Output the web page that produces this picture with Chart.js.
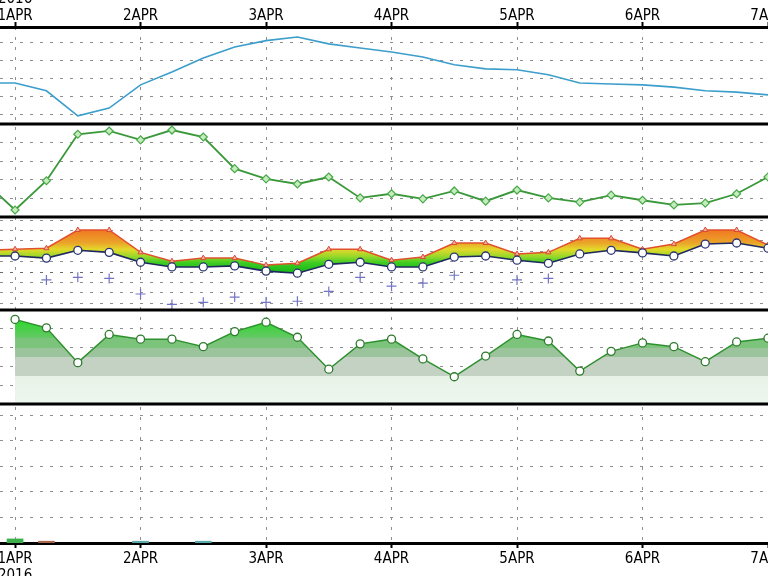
<!DOCTYPE html>
<html>
<head>
<meta charset="utf-8">
<script src="https://cdn.jsdelivr.net/npm/chart.js@4.4.1/dist/chart.umd.min.js"></script>
<style>
html,body{margin:0;padding:0;background:#fff;overflow:hidden}
#wrap{position:relative;width:768px;height:576px}
</style>
</head>
<body>
<div id="wrap"><canvas id="meteo"></canvas></div>
<script>
// time in days since 1 APR 2016 00Z, 6-hourly
const times = [-0.25,0,0.25,0.5,0.75,1,1.25,1.5,1.75,2,2.25,2.5,2.75,3,3.25,3.5,3.75,4,4.25,4.5,4.75,5,5.25,5.5,5.75,6];
const dayTicks = [0,1,2,3,4,5,6];
const dayLabels = ['1APR','2APR','3APR','4APR','5APR','6APR','7APR'];
const yearLabel = '2016';

const pressure = [1011.0,1011.0,1009.3,1003.8,1005.5,1010.6,1013.4,1016.5,1018.9,1020.3,1021.1,1019.6,1018.7,1017.8,1016.7,1015.0,1014.1,1013.9,1012.8,1011.0,1010.8,1010.6,1010.1,1009.3,1009.0,1008.4];
const wind = [3.9,0.75,3.9,8.9,9.25,8.3,9.35,8.6,5.2,4.1,3.55,4.3,2.05,2.5,1.95,2.8,1.7,2.9,2.05,1.6,2.35,1.8,1.3,1.5,2.5,4.3];
const temp = [3.1,3.1,2.7,4.2,3.8,1.9,1.0,1.0,1.2,0.2,-0.2,1.5,1.9,1.0,1.0,2.9,3.1,2.3,1.7,3.5,4.2,3.7,3.1,5.4,5.6,4.6];
const tempMax = [4.2,4.4,4.6,8.1,8.1,3.8,2.1,2.7,2.7,1.35,1.7,4.4,4.4,2.3,2.9,5.6,5.6,3.5,3.8,6.5,6.5,4.4,5.4,8.1,8.1,5.2];
const dewPoint = [null,null,-1.5,-1.0,-1.2,-4.2,-6.2,-5.8,-4.8,-5.8,-5.6,-3.7,-1.0,-2.7,-2.1,-0.6,null,-1.5,-1.2,null,null,null,null,null,null,null];
const humidity = [null,90,81,44,74,69,69,61,77,87,71,37,64,69,48,29,51,74,67,35,56,65,61,45,66,70];
const precipTimes = [0,0.25,1,1.5];
const precip = [0.16,0.07,0.07,0.07];

const pts = arr => times.map((t, i) => ({x: t, y: arr[i]}));

const FONT = {family: "'Liberation Sans Narrow','DejaVu Sans Condensed','Liberation Sans',sans-serif", size: 15, lineHeight: 1.13};
const GRID = '#8f8f8f';

function fixedTicks(values){
    return s => { s.ticks = values.map(v => ({value: v})); };
}

function tempGradient(c){
    const {chart} = c;
    const area = chart.chartArea, s = chart.scales.y3;
    if (!area || !s) return '#7fd030';
    const g = chart.ctx.createLinearGradient(0, s.getPixelForValue(8), 0, s.getPixelForValue(0));
    g.addColorStop(0, '#f07a22');
    g.addColorStop(0.3, '#eaa52a');
    g.addColorStop(0.45, '#e4d82a');
    g.addColorStop(0.62, '#9ad82a');
    g.addColorStop(0.78, '#3ccc22');
    g.addColorStop(1, '#18b818');
    return g;
}

function rhGradient(c){
    const {chart} = c;
    const area = chart.chartArea, s = chart.scales.y4;
    if (!area || !s) return '#9c9';
    const top = s.getPixelForValue(100), bot = s.getPixelForValue(0);
    const g = chart.ctx.createLinearGradient(0, top, 0, bot);
    const f = v => (100 - v) / 100;
    g.addColorStop(f(100), '#00e000');
    g.addColorStop(f(85), '#3ad43a');
    g.addColorStop(f(70), '#66c866');
    g.addColorStop(f(70), '#7cc47c');
    g.addColorStop(f(60), '#7cc47c');
    g.addColorStop(f(60), '#9cc49c');
    g.addColorStop(f(50), '#9cc49c');
    g.addColorStop(f(50), '#c4d2c4');
    g.addColorStop(f(30), '#c4d2c4');
    g.addColorStop(f(30), '#e8f3e8');
    g.addColorStop(f(0), '#eef6ee');
    return g;
}

const panelBorders = {
    id: 'panelBorders',
    afterDatasetsDraw(chart){
        const {ctx, chartArea} = chart;
        ctx.save();
        ctx.strokeStyle = '#000';
        ctx.lineWidth = 3;
        ['y1','y2','y3','y4'].forEach(id => {
            const y = Math.round(chart.scales[id].bottom);
            ctx.beginPath(); ctx.moveTo(chartArea.left, y); ctx.lineTo(chartArea.right, y); ctx.stroke();
        });
        ctx.restore();
    }
};

function panelAxis(min, max, grids, weight, zeroLine){
    return {
        type: 'linear', position: 'left', stack: 'meteo', stackWeight: weight,
        min, max,
        afterBuildTicks: fixedTicks(grids),
        ticks: {display: false},
        border: {display: false, dash: [3, 7]},
        grid: {drawTicks: false, lineWidth: 1,
               color: c => (zeroLine && c.tick && c.tick.value === 0) ? '#6a6a6a' : GRID}
    };
}

const xCommon = {
    type: 'linear', min: -0.12, max: 6, offset: false,
    afterBuildTicks: fixedTicks(dayTicks),
    border: {display: true, color: '#000', width: 3, dash: [3, 7]}
};

new Chart(document.getElementById('meteo'), {
    type: 'line',
    data: {
        datasets: [
            {label: 'temp', data: pts(temp), yAxisID: 'y3',
             borderColor: '#1f2860', borderWidth: 1.6, pointRadius: 4, pointStyle: 'circle',
             pointBackgroundColor: '#fff', pointBorderColor: '#2a3470', pointBorderWidth: 1.3},
            {label: 'tempMax', data: pts(tempMax), yAxisID: 'y3', fill: '-1',
             backgroundColor: tempGradient,
             borderColor: '#e2502c', borderWidth: 1.5, pointRadius: 3, pointStyle: 'triangle',
             pointBackgroundColor: '#f4b090', pointBorderColor: '#d84a3a', pointBorderWidth: 1},
            {label: 'dewPoint', data: pts(dewPoint), yAxisID: 'y3', showLine: false,
             pointStyle: 'cross', pointRadius: 5, pointBorderColor: '#7474c4', pointBorderWidth: 1.2},
            {label: 'pressure', data: pts(pressure), yAxisID: 'y1',
             borderColor: '#3c9ecb', borderWidth: 1.6, pointRadius: 0},
            {label: 'wind', data: pts(wind), yAxisID: 'y2',
             borderColor: '#3a983a', borderWidth: 1.8, pointRadius: 4, pointStyle: 'rectRot',
             pointBackgroundColor: '#c4ecbc', pointBorderColor: '#48a848', pointBorderWidth: 1.2},
            {label: 'humidity', data: pts(humidity), yAxisID: 'y4', fill: 'start',
             backgroundColor: rhGradient,
             borderColor: '#2f902f', borderWidth: 1.5, pointRadius: 4, pointStyle: 'circle',
             pointBackgroundColor: '#fff', pointBorderColor: '#2f7a2f', pointBorderWidth: 1.3},
            {type: 'bar', label: 'precip', yAxisID: 'y5',
             data: precipTimes.map((t, i) => ({x: t, y: precip[i]})),
             backgroundColor: ['#3cae4c','#a8644e','#5aa8a8','#5aa8a8'],
             barThickness: 16}
        ]
    },
    options: {
        responsive: true, maintainAspectRatio: false, animation: false,
        layout: {padding: 0, autoPadding: false},
        plugins: {legend: {display: false}, tooltip: {enabled: false}},
        scales: {
            x: Object.assign({}, xCommon, {
                position: 'bottom',
                afterFit: s => { s.paddingLeft = 0; s.paddingRight = 0; s.height = 33; },
                grid: {offset: false, color: GRID, lineWidth: 1, tickLength: 5, tickColor: '#000', tickWidth: 2, tickBorderDash: []},
                ticks: {color: '#000', font: FONT, padding: 3, maxRotation: 0, autoSkip: false,
                        callback: v => v === 0 ? [dayLabels[0], yearLabel] : dayLabels[v]}
            }),
            xTop: Object.assign({}, xCommon, {
                position: 'top',
                afterFit: s => { s.paddingLeft = 0; s.paddingRight = 0; s.height = 27; },
                grid: {offset: false, drawOnChartArea: false, tickLength: 5, tickColor: '#000', tickWidth: 2, tickBorderDash: []},
                ticks: {color: '#000', font: FONT, padding: -3, maxRotation: 0, autoSkip: false,
                        callback: v => v === 0 ? [yearLabel, dayLabels[0]] : dayLabels[v]}
            }),
            // stacked panels, listed bottom to top
            y5: panelAxis(0, 5.43, [1,2,3,4,5], 139),
            y4: panelAxis(0, 100, [20,40,60,80], 94),
            y3: panelAxis(-7.28, 10.6, [-6,-4,-2,0,2,4,6,8,10], 93, true),
            y2: panelAxis(0, 10, [2,4,6,8], 93),
            y1: panelAxis(1002, 1023.3, [1004,1008,1012,1016,1020], 97)
        }
    },
    plugins: [panelBorders]
});
</script>
</body>
</html>
